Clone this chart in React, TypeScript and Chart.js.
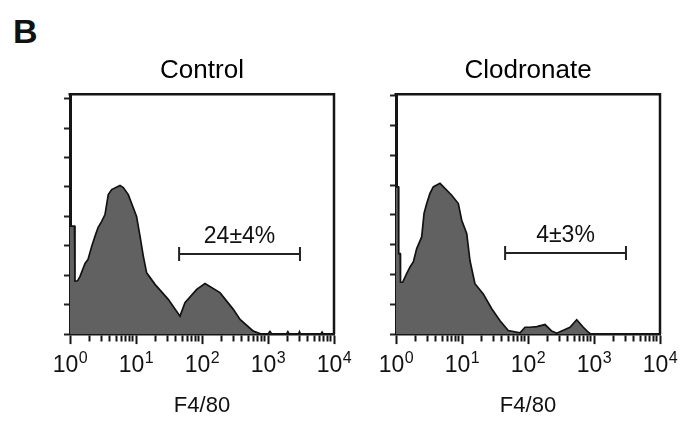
import React, { useEffect, useRef } from 'react';
import { Chart, registerables } from 'chart.js';

Chart.register(...registerables);

const FONT = '"Liberation Sans", Arial, Helvetica, sans-serif';

// ---- data ----
const panelLetter = 'B';
const panelTitles = ['Control', 'Clodronate'];
const axisTitle = 'F4/80';
const decadeExponents = [0, 1, 2, 3, 4];
const minorMultipliers = [1, 2, 3, 4, 5, 6, 7, 8, 9];
const yTickValues = [0, 1, 2, 3, 4, 5, 6, 7, 8];
const yMaxima = [8.15, 8.05];

const controlIntensity = [
  1, 1.17, 1.19, 1.3, 1.42, 1.69, 1.87, 2.13, 2.39, 2.66, 3.02, 3.39, 3.8, 4.28,
  5.72, 6.42, 7.64, 10.2, 11.5, 12.9, 14.5, 19.4, 30.8, 46.4, 55.2, 83.1, 111,
  187, 298, 377, 599, 756, 1000, 1070, 1140, 1900, 2000, 2100, 2900, 3000, 3100,
  6300, 6600, 6900, 10000,
];
const controlCounts = [
  3.67, 3.67, 1.8, 1.81, 1.96, 2.4, 2.53, 2.98, 3.32, 3.62, 3.83, 4.06, 4.74, 4.91,
  5.05, 4.98, 4.74, 4.0, 3.33, 2.65, 2.08, 1.69, 1.18, 0.61, 1.07, 1.52, 1.72,
  1.41, 0.84, 0.5, 0.1, 0.02, 0.0, 0.09, 0.0, 0.0, 0.08, 0.0, 0.0, 0.08, 0.0,
  0.0, 0.07, 0.0, 0.0,
];

const clodronateIntensity = [
  1, 1.09, 1.1, 1.16, 1.17, 1.26, 1.45, 1.63, 1.83, 2.06, 2.45, 2.66, 2.92, 3.27,
  3.67, 4.64, 6.98, 8.79, 9.9, 11.8, 13.2, 15.7, 21.0, 28.2, 37.7, 50.2, 75.7,
  90.1, 107, 136, 181, 229, 272, 433, 547, 689, 820, 900, 10000,
];
const clodronateCounts = [
  4.94, 4.94, 2.7, 2.7, 1.74, 1.74, 2.03, 2.25, 2.42, 2.87, 3.26, 4.05, 4.38, 4.72,
  4.94, 5.06, 4.66, 4.38, 3.82, 3.37, 2.47, 1.69, 1.35, 0.85, 0.45, 0.12, 0.04,
  0.23, 0.23, 0.25, 0.32, 0.1, 0.03, 0.23, 0.48, 0.23, 0.06, 0.0, 0.0,
];

const gateBounds = [45, 3050];
const gateLevels = [2.72, 2.72];
const gateLabels = ['24±4%', '4±3%'];

const isDecade = (v: number) => {
  const l = Math.log10(v);
  return Math.abs(l - Math.round(l)) < 1e-9;
};

const decorPlugin = {
  id: 'decor',
  afterDraw(chart: any, _args: any, opts: any) {
    const { ctx, chartArea, scales } = chart;
    const xs = scales.x;
    const ys = scales.y;
    ctx.save();
    // frame: top and right edges
    ctx.strokeStyle = '#151515';
    ctx.lineWidth = 2.5;
    ctx.beginPath();
    ctx.moveTo(chartArea.left - 1.5, chartArea.top);
    ctx.lineTo(chartArea.right, chartArea.top);
    ctx.lineTo(chartArea.right, chartArea.bottom);
    ctx.stroke();

    // decade tick labels 10^n
    ctx.fillStyle = '#111';
    ctx.textBaseline = 'alphabetic';
    ctx.textAlign = 'left';
    const base = '10';
    for (const e of decadeExponents) {
      const px = xs.getPixelForValue(Math.pow(10, e));
      ctx.font = `23px ${FONT}`;
      const w1 = ctx.measureText(base).width;
      ctx.font = `16px ${FONT}`;
      const w2 = ctx.measureText(String(e)).width;
      const start = px - (w1 + w2) / 2;
      ctx.font = `23px ${FONT}`;
      ctx.fillText(base, start, 372);
      ctx.font = `16px ${FONT}`;
      ctx.fillText(String(e), start + w1 + 0.5, 363);
    }

    // gate marker
    const x1 = xs.getPixelForValue(gateBounds[0]);
    const x2 = xs.getPixelForValue(gateBounds[1]);
    const gy = ys.getPixelForValue(opts.level);
    ctx.strokeStyle = '#222';
    ctx.lineWidth = 2;
    ctx.beginPath();
    ctx.moveTo(x1, gy);
    ctx.lineTo(x2, gy);
    ctx.moveTo(x1, gy - 7);
    ctx.lineTo(x1, gy + 7);
    ctx.moveTo(x2, gy - 7);
    ctx.lineTo(x2, gy + 7);
    ctx.stroke();
    const mid = xs.getPixelForValue(Math.sqrt(gateBounds[0] * gateBounds[1]));
    ctx.font = `23px ${FONT}`;
    ctx.textAlign = 'center';
    ctx.fillStyle = '#111';
    ctx.fillText(opts.label, mid, gy - 11);
    ctx.restore();
  },
};

const paddings = [
  { left: 64, right: 360, top: 0, bottom: 0 },
  { left: 390, right: 34, top: 0, bottom: 0 },
];

function makeConfig(i: number): any {
  const intensities = i === 0 ? controlIntensity : clodronateIntensity;
  const counts = i === 0 ? controlCounts : clodronateCounts;
  return {
    type: 'line',
    data: {
      datasets: [
        {
          data: intensities.map((v, k) => ({ x: v, y: counts[k] })),
          fill: 'origin',
          backgroundColor: '#616161',
          borderColor: '#121212',
          borderWidth: 1.7,
          pointRadius: 0,
          tension: 0,
        },
      ],
    },
    options: {
      responsive: false,
      animation: false,
      devicePixelRatio: 1,
      layout: { padding: paddings[i] },
      plugins: {
        legend: { display: false },
        tooltip: { enabled: false },
        title: {
          display: true,
          text: panelTitles[i],
          fullSize: false,
          color: '#000',
          font: { family: FONT, size: 26, weight: 'normal', lineHeight: 1.2 },
          padding: { top: 55, bottom: 8 },
        },
        decor: { level: gateLevels[i], label: gateLabels[i] },
      },
      scales: {
        x: {
          type: 'logarithmic',
          min: 1,
          max: 10000,
          afterBuildTicks: (scale: any) => {
            const t: any[] = [];
            decadeExponents.forEach((e) => {
              minorMultipliers.forEach((m) => {
                const v = m * Math.pow(10, e);
                if (v <= 10000) t.push({ value: v, major: m === 1 });
              });
            });
            scale.ticks = t;
          },
          ticks: { display: false },
          grid: {
            display: true,
            drawOnChartArea: false,
            drawTicks: true,
            tickLength: 10,
            tickWidth: 2,
            tickColor: '#151515',
            tickBorderDash: (c: any) => (c.tick && isDecade(c.tick.value) ? [] : [6, 30]),
          },
          border: { display: true, color: '#151515', width: 2.5 },
          title: {
            display: true,
            text: axisTitle,
            color: '#111',
            font: { family: FONT, size: 22, lineHeight: 1.2 },
            padding: { top: 48.5, bottom: 10 },
          },
        },
        y: {
          type: 'linear',
          min: 0,
          max: yMaxima[i],
          afterBuildTicks: (scale: any) => {
            scale.ticks = yTickValues.map((v) => ({ value: v }));
          },
          ticks: { display: false },
          grid: {
            display: true,
            drawOnChartArea: false,
            drawTicks: true,
            tickLength: 6,
            tickWidth: 2,
            tickColor: '#222',
          },
          border: { display: true, color: '#151515', width: 3 },
        },
      },
    },
    plugins: [decorPlugin],
  };
}

export default function App() {
  const leftRef = useRef<HTMLCanvasElement>(null);
  const rightRef = useRef<HTMLCanvasElement>(null);

  useEffect(() => {
    const charts: Chart[] = [];
    [leftRef.current, rightRef.current].forEach((cv, i) => {
      if (cv) charts.push(new Chart(cv, makeConfig(i)));
    });
    return () => charts.forEach((c) => c.destroy());
  }, []);

  return (
    <div
      style={{
        position: 'absolute',
        left: 0,
        top: 0,
        width: 694,
        height: 429,
        background: '#fff',
        overflow: 'hidden',
      }}
    >
      <div
        style={{
          position: 'absolute',
          left: 13,
          top: 14,
          fontFamily: FONT,
          fontWeight: 'bold',
          fontSize: 34,
          lineHeight: '34px',
          color: '#111',
        }}
      >
        {panelLetter}
      </div>
      <canvas
        ref={leftRef}
        width={694}
        height={429}
        style={{ position: 'absolute', left: 0, top: 0, width: 694, height: 429 }}
      />
      <canvas
        ref={rightRef}
        width={694}
        height={429}
        style={{ position: 'absolute', left: 0, top: 0, width: 694, height: 429 }}
      />
    </div>
  );
}
